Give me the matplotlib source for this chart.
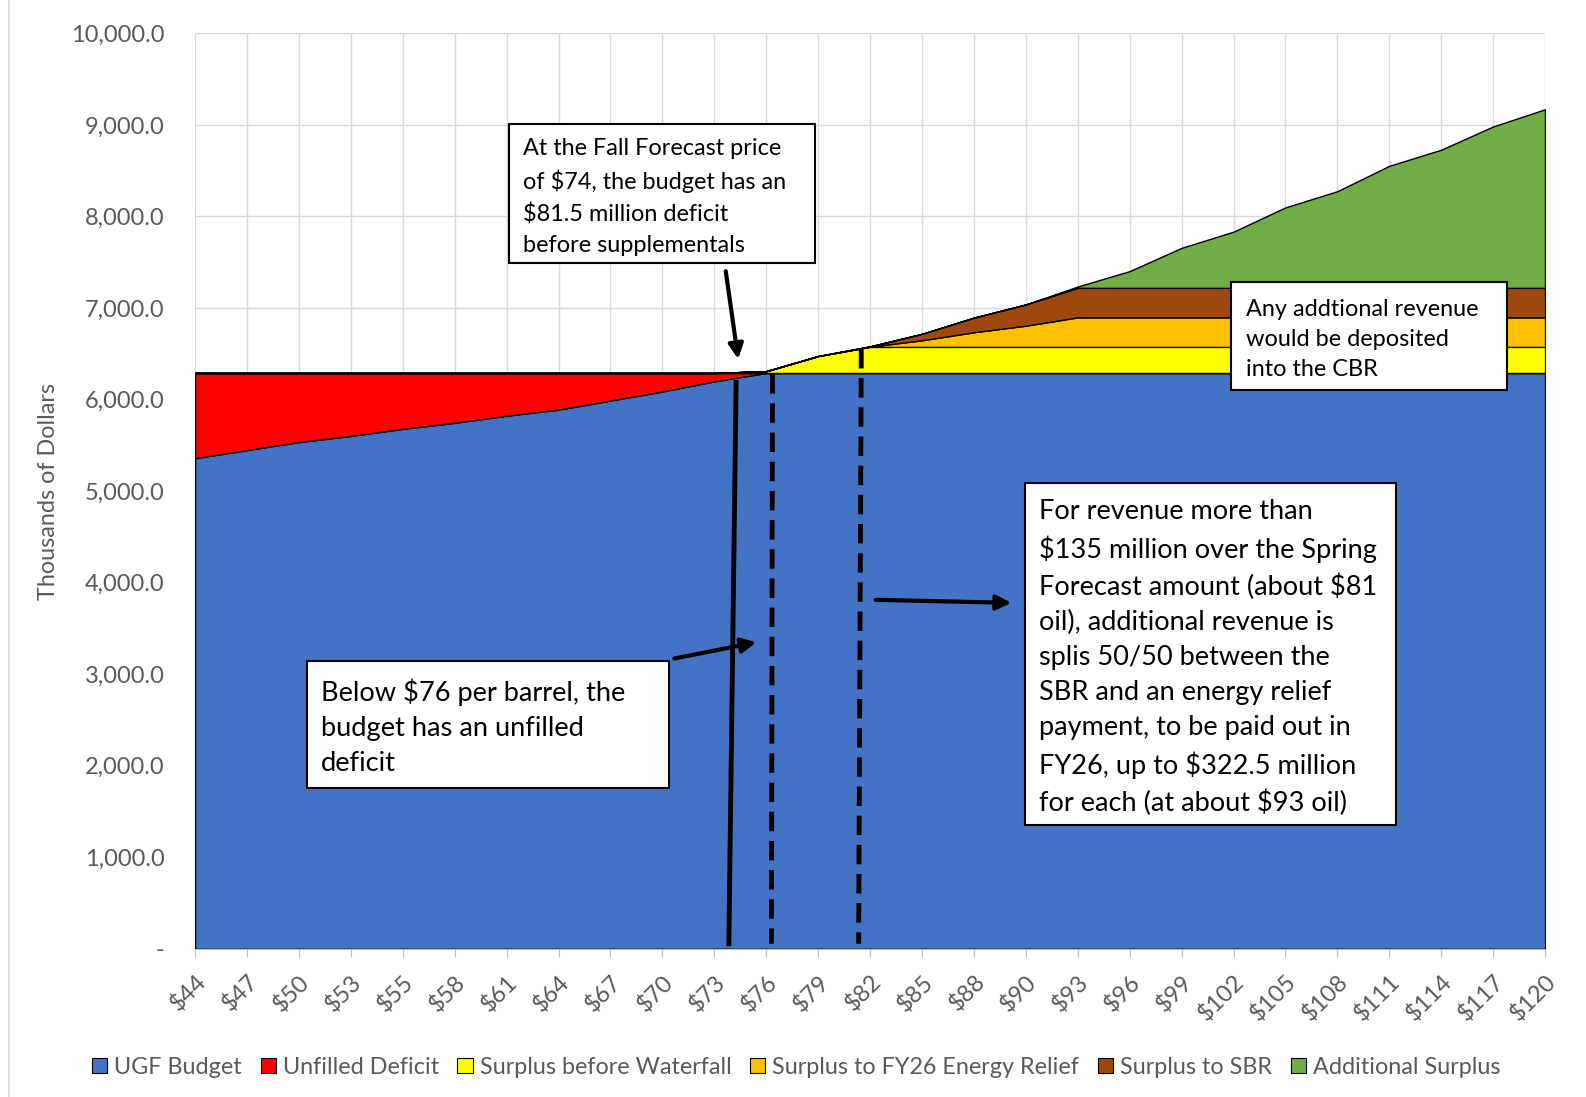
import matplotlib
matplotlib.use("Agg")
import matplotlib.pyplot as plt
from matplotlib.patches import Rectangle, Patch
from matplotlib.lines import Line2D
from matplotlib.ticker import FuncFormatter

plt.rcParams['font.family'] = ['Lato', 'DejaVu Sans']

# oil price categories
prices = ["$44", "$47", "$50", "$53", "$55", "$58", "$61", "$64", "$67", "$70",
          "$73", "$76", "$79", "$82", "$85", "$88", "$90", "$93", "$96", "$99",
          "$102", "$105", "$108", "$111", "$114", "$117", "$120"]

# stacked layers
ugf_budget = [5359, 5448, 5536, 5602, 5680, 5746, 5823, 5890, 5989, 6088,
              6199, 6290, 6290, 6290, 6290, 6290, 6290, 6290, 6290, 6290,
              6290, 6290, 6290, 6290, 6290, 6290, 6290]
unfilled_deficit = [931, 842, 754, 688, 610, 544, 467, 400, 301, 202,
                    91, 0, 0, 0, 0, 0, 0, 0, 0, 0,
                    0, 0, 0, 0, 0, 0, 0]
surplus_before = [0, 0, 0, 0, 0, 0, 0, 0, 0, 0,
                  0, 20, 185, 285, 285, 285, 285, 285, 285, 285,
                  285, 285, 285, 285, 285, 285, 285]
surplus_energy = [0, 0, 0, 0, 0, 0, 0, 0, 0, 0,
                  0, 0, 0, 3, 72, 160, 232, 322.5, 322.5, 322.5,
                  322.5, 322.5, 322.5, 322.5, 322.5, 322.5, 322.5]
surplus_sbr = [0, 0, 0, 0, 0, 0, 0, 0, 0, 0,
               0, 0, 0, 3, 71, 160, 232, 322.5, 322.5, 322.5,
               322.5, 322.5, 322.5, 322.5, 322.5, 322.5, 322.5]
additional = [0, 0, 0, 0, 0, 0, 0, 0, 0, 0,
              0, 0, 0, 0, 0, 0, 0, 15, 183, 437,
              614, 879, 1056, 1333, 1509, 1763, 1951]

series_names = ["UGF Budget", "Unfilled Deficit", "Surplus before Waterfall",
                "Surplus to FY26 Energy Relief", "Surplus to SBR", "Additional Surplus"]
colors = ["#4472C4", "#FF0000", "#FFFF00", "#FFC000", "#9E480E", "#70AD47"]

gray = "#595959"
x = list(range(len(prices)))

fig = plt.figure(figsize=(15.86, 10.97), dpi=100)
ax = fig.add_axes([0.123, 0.1351, 0.8512, 0.8345])

ax.stackplot(x, ugf_budget, unfilled_deficit, surplus_before, surplus_energy,
             surplus_sbr, additional, colors=colors, edgecolor="black",
             linewidth=1.0, zorder=2)

ax.set_xlim(0, len(prices) - 1)
ax.set_ylim(0, 10000)
ax.set_yticks(range(0, 10001, 1000))
ax.yaxis.set_major_formatter(FuncFormatter(lambda v, p: "-" if v == 0 else f"{v:,.1f}"))
ax.set_xticks(x)
ax.set_xticklabels(prices, rotation=45, ha="right", va="top", rotation_mode="anchor")
ax.grid(True, color="#d9d9d9", lw=1.0, zorder=0)
ax.set_axisbelow(True)
for s in ["top", "right", "left"]:
    ax.spines[s].set_visible(False)
ax.spines["bottom"].set_color("#bfbfbf")
ax.tick_params(axis="y", length=0, pad=22, labelsize=17, labelcolor=gray)
ax.tick_params(axis="x", length=6, color="#bfbfbf", pad=10, labelsize=17, labelcolor=gray)
ax.set_ylabel("Thousands of Dollars", fontsize=16.8, color=gray)
ax.yaxis.set_label_coords(-0.101, 0.5)

# guide lines
ax.plot([10.42, 10.28], [6188, 55], color="black", lw=3.5, zorder=4)
ax.plot([11.12, 11.10], [6276, 55], color="black", lw=3.5, ls=(0, (4, 2)), zorder=4)
ax.plot([12.83, 12.78], [6552, 55], color="black", lw=3.5, ls=(0, (4, 2)), zorder=4)

# arrows
arrows = [((10.22, 7403), (10.46, 6442)),
          ((9.23, 3171), (10.81, 3348)),
          ((13.11, 3812), (15.72, 3779))]
for start, end in arrows:
    ax.annotate("", xy=end, xytext=start, zorder=5,
                arrowprops=dict(arrowstyle="-|>", lw=3, color="black", mutation_scale=22,
                                shrinkA=0, shrinkB=0))

# text boxes: (x0, x1, y_bottom, y_top, text_x, fontsize, linespacing, text)
boxes = [
    (6.04, 11.94, 7492, 9006, 6.31, 16.9, 1.55,
     "At the Fall Forecast price\nof $74, the budget has an\n$81.5 million deficit\nbefore supplementals"),
    (2.16, 9.13, 1757, 3149, 2.43, 19.6, 1.5,
     "Below $76 per barrel, the\nbudget has an unfilled\ndeficit"),
    (15.99, 23.12, 1348, 5083, 16.26, 19.5, 1.5,
     "For revenue more than\n$135 million over the Spring\nForecast amount (about $81\noil), additional revenue is\n"
     "splis 50/50 between the\nSBR and an energy relief\npayment, to be paid out in\n"
     "FY26, up to $322.5 million\nfor each (at about $93 oil)"),
    (19.96, 25.26, 6099, 7282, 20.24, 16.9, 1.55,
     "Any addtional revenue\nwould be deposited\ninto the CBR"),
]
for x0, x1, y0, y1, tx, fs, lsp, txt in boxes:
    ax.add_patch(Rectangle((x0, y0), x1 - x0, y1 - y0, facecolor="white",
                           edgecolor="black", lw=1.5, zorder=6))
    ax.text(tx, (y0 + y1) / 2 - 35, txt, fontsize=fs, linespacing=lsp, ha="left",
            va="center", color="black", zorder=7, parse_math=False)

# legend
handles = [Patch(facecolor=c, edgecolor="black", lw=0.8) for c in colors]
fig.legend(handles, series_names, loc="center", bbox_to_anchor=(0.502, 0.027), ncol=6,
           frameon=False, fontsize=16.8, handlelength=0.65, handleheight=0.65,
           handletextpad=0.3, columnspacing=0.8, labelcolor=gray)

# chart area border line at far left
fig.add_artist(Line2D([0.0055, 0.0055], [0.0, 1.0], color="#d9d9d9", lw=1.2))

fig.savefig("out.png", dpi=100)
